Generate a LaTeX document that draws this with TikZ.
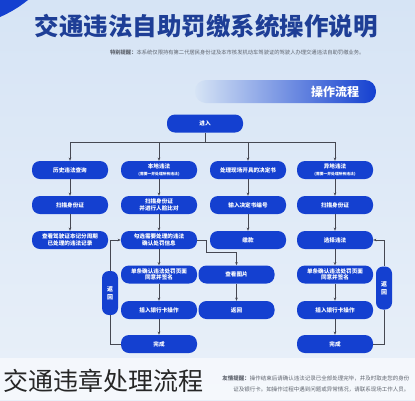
\documentclass[tikz,border=0pt]{standalone}
\usepackage{fontspec}
\setmainfont{Noto Sans CJK SC}
\usetikzlibrary{arrows.meta,positioning,calc}

\definecolor{bgtop}{RGB}{214,228,245}
\definecolor{bgbot}{RGB}{233,240,249}
\definecolor{boxblue}{RGB}{20,64,208}
\definecolor{titleblue}{RGB}{30,62,150}
\definecolor{linegray}{RGB}{70,72,82}
\definecolor{notegray}{RGB}{95,100,110}

\tikzset{
  box/.style={fill=boxblue, rounded corners=8pt, minimum width=76pt, minimum height=18pt,
    inner sep=1pt, text=white, align=center, font=\fontsize{5.6}{6.6}\selectfont\bfseries},
  sidebox/.style={fill=boxblue, rounded corners=7pt, minimum width=16pt, minimum height=44pt,
    inner sep=1pt, text=white, align=center, font=\fontsize{6}{8}\selectfont\bfseries},
  link/.style={draw=linegray, line width=0.6pt},
  arr/.style={link, -{Stealth[length=3.2pt,width=2.6pt]}},
}
\newcommand{\subnote}[1]{{\fontsize{3.8}{4.6}\selectfont #1}}

\begin{document}
\begin{tikzpicture}[x=1pt,y=-1pt]

        % background
        \useasboundingbox (0,0) rectangle (415,400);
        \shade[top color=bgtop, bottom color=bgbot] (0,0) rectangle (415,400);
        \fill[boxblue] (0,0) -- (28,0) .. controls (18,8) and (9,13) .. (0,17) -- cycle;

        % title
        \node[font=\fontsize{24.5}{26}\selectfont\bfseries, text=titleblue] (title) at (206,26) {交通违法自助罚缴系统操作说明};
        \node[anchor=east, font=\fontsize{5.3}{6}\selectfont, text=notegray] (remind) at (368,52)
          {\textbf{特别提醒：}本系统仅限持有第二代居民身份证及本市核发机动车驾驶证的驾驶人办理交通违法自助罚缴业务。};

        % banner
        \shade[left color=bgtop, middle color=boxblue!65!bgtop, right color=boxblue, rounded corners=11pt] (195,80) rectangle (376,103);
        \node[font=\fontsize{12}{13}\selectfont\bfseries, text=white] (banner) at (335,92) {操作流程};

        % draw the boxes
        \node[box] (enter) at (205,123.5) {进入};
        \coordinate (bus) at (205,142);

        \node[box] (hist) at (70,170) {历史违法查询};
        \node[box] (histscan) at (70,205) {扫描身份证};
        \node[box] (histlist) at (70,240) {查看驾驶证本记分周期\\已处理的违法记录};

        \node[box] (local) at (159,170) {本地违法\\\subnote{(需要一并处理所有违法)}};
        \node[box] (localscan) at (159,205) {扫描身份证\\并进行人脸比对};
        \node[box] (localpick) at (159,240) {勾选需要处理的违法\\确认处罚信息};
        \node[box] (localsign) at (159,274.5) {单条确认违法处罚页面\\同意并签名};
        \node[box] (localcard) at (159,310) {插入银行卡操作};
        \node[box] (localdone) at (159,344) {完成};

        \node[box] (site) at (248,170) {处理现场开具的决定书};
        \node[box] (sitenum) at (248,205) {输入决定书编号};
        \node[box] (sitepay) at (248,240) {缴款};
        \node[box] (sitepic) at (236.5,274.5) {查看图片};
        \node[box] (siteback) at (236.5,310) {返回};

        \node[box] (other) at (335,170) {异地违法\\\subnote{(需要一并处理所有违法)}};
        \node[box] (otherscan) at (335,205) {扫描身份证};
        \node[box] (otherpick) at (335,240) {选择违法};
        \node[box] (othersign) at (335,274.5) {单条确认违法处罚页面\\同意并签名};
        \node[box] (othercard) at (335,310) {插入银行卡操作};
        \node[box] (otherdone) at (335,344) {完成};

        \node[sidebox] (backleft) at (110,293) {返\\回};
        \node[sidebox, minimum height=43pt] (backright) at (384,288) {返\\回};

        % draw the arrows
        \draw[link] (enter) -- (bus);
        \foreach \col in {hist,local,site,other}
          \draw[arr] (bus) -| (\col);

        \draw[arr] (hist) -- (histscan);
        \draw[arr] (histscan) -- (histlist);

        \draw[arr] (local) -- (localscan);
        \draw[arr] (localscan) -- (localpick);
        \draw[arr] (localpick) -- (localsign);
        \draw[arr] (localsign) -- (localcard);
        \draw[arr] (localcard) -- (localdone);

        \draw[arr] (site) -- (sitenum);
        \draw[arr] (sitenum) -- (sitepay);
        \draw[arr] (sitepic) -- (siteback);
        \coordinate (picbend) at (206,252);
        \draw[arr] (localpick.east) -| (picbend) -| (sitepic.north);

        \draw[arr] (other) -- (otherscan);
        \draw[arr] (otherscan) -- (otherpick);
        \draw[arr] (otherpick) -- (othersign);
        \draw[arr] (othersign) -- (othercard);
        \draw[arr] (othercard) -- (otherdone);

        % return loops
        \draw[arr] (backleft.north) |- (localpick.west);
        \draw[link] (backleft.south) |- (localdone.west);
        \draw[arr] (backright.north) |- (otherpick.east);
        \draw[link] (backright.south) |- (otherdone.east);

        % bottom band
        \fill[white, opacity=0.55] (0,358) rectangle (415,400);
        \node[anchor=east, font=\fontsize{5.5}{6}\selectfont, text=notegray] (tip1) at (413,378)
          {\textbf{友情提醒：}操作结束后请确认违法记录已全部处理完毕，并及时取走您的身份};
        \node[anchor=east, font=\fontsize{5.5}{6}\selectfont, text=notegray] (tip2) at (413,389)
          {证及银行卡。如操作过程中遇到问题或异常情况，请联系现场工作人员。};
        \node[font=\fontsize{25}{27}\selectfont, text=black!85] (caption) at (103,381) {交通违章处理流程};

\end{tikzpicture}
\end{document}
